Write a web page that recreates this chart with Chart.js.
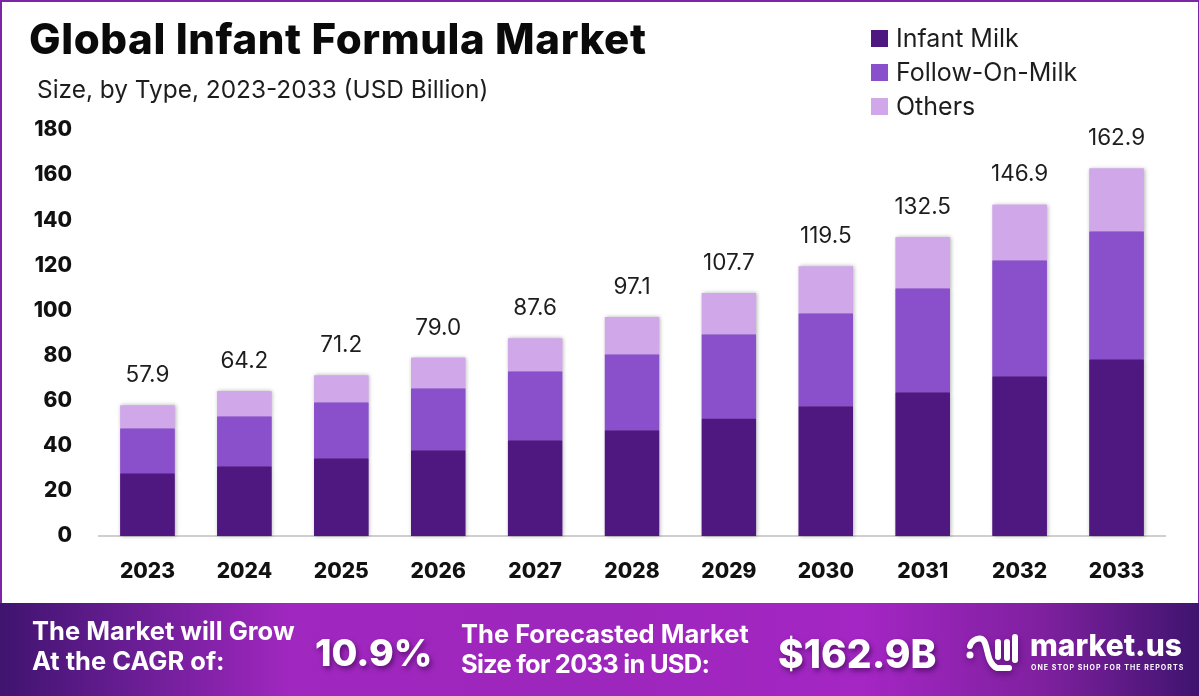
<!DOCTYPE html>
<html>
<head>
<meta charset="utf-8">
<title>Global Infant Formula Market</title>
<script src="https://cdn.jsdelivr.net/npm/chart.js@4"></script>
<style>
  html, body { margin: 0; padding: 0; background: #fff; }
  body { position: relative; width: 1199px; height: 696px; overflow: hidden; font-family: Inter, "Noto Sans", sans-serif; }
  #chart { position: absolute; left: 0; top: 0; }
  #frame { position: absolute; left: 0; top: 0; width: 1199px; height: 603px; box-sizing: border-box;
    border: solid #7d25a8; border-width: 2px 1px 0 2px; pointer-events: none; }
  #title { position: absolute; left: 29px; top: 13px; font-size: 42px; font-weight: 800; color: #0a0a0a; white-space: nowrap; letter-spacing: .6px; }
  #subtitle { position: absolute; left: 37px; top: 74px; font-size: 24.4px; color: #1d1d1d; white-space: nowrap; }
  #legend { position: absolute; left: 871px; top: 21px; }
  #legend div { height: 34px; display: flex; align-items: center; font-size: 25px; color: #1d1d1d; white-space: nowrap; }
  #legend i { width: 17px; height: 17px; margin-right: 8px; }
  #banner { position: absolute; left: 0; top: 603px; width: 1199px; height: 93px;
    background: linear-gradient(90deg, #3f146f 0%, #6d1e97 12%, #a027bf 24%, #9d26bc 50%, #a426c4 72%, #7f209f 87%, #3f146f 100%); color: #fff; }
  #banner span { position: absolute; white-space: nowrap; font-weight: 700; }
  #banner b { font-weight: 700; letter-spacing: -.75px; }
  .small { font-size: 25.5px; line-height: 30px; }
  .big { font-size: 39px; font-weight: 800 !important; text-shadow: 2px 3px 5px rgba(40,0,60,.55); }
</style>
</head>
<body>
<canvas id="chart" width="1199" height="603"></canvas>
<div id="frame"></div>
<div id="title">Global Infant Formula Market</div>
<div id="subtitle">Size, by Type, 2023-2033 (USD Billion)</div>
<div id="legend"></div>
<div id="banner">
  <span class="small" style="left:32px;top:13px">The Market will Grow<br>At the CAGR of:</span>
  <span class="big" style="left:315px;top:27px;font-size:37.5px">10.9%</span>
  <span class="small" style="left:461px;top:16px">The Forecasted Market<br><b>Size for 2033 in USD:</b></span>
  <span class="big" style="left:778px;top:27px">$162.9B</span>
  <svg style="position:absolute;left:964px;top:30px;filter:drop-shadow(1px 3px 3px rgba(40,0,60,.45))" width="60" height="44" viewBox="0 0 60 44" fill="none" stroke="#fff" stroke-width="6" stroke-linecap="round">
    <circle cx="6" cy="22" r="3.5" fill="#fff" stroke="none"/>
    <path d="M6 13 C8 6 17 3 20 8 C24 14 23 31 33 35 L45 35"/>
    <path d="M34 9 L34 24"/>
    <path d="M43 9 L43 25"/>
    <path d="M51 4 L51 27"/>
  </svg>
  <span style="left:1030px;top:24px;font-size:30px;font-weight:800">market.us</span>
  <span style="left:1031px;top:60px;font-size:7px;letter-spacing:1.05px">ONE STOP SHOP FOR THE REPORTS</span>
</div>

<script>
const years = ['2023', '2024', '2025', '2026', '2027', '2028', '2029', '2030', '2031', '2032', '2033'];
const infantMilk = [27.7, 30.8, 34.4, 37.9, 42.3, 46.8, 52.0, 57.4, 63.6, 70.7, 78.2];
const followOnMilk = [20.0, 22.2, 24.8, 27.5, 30.6, 33.7, 37.3, 41.2, 46.1, 51.4, 56.8];
const others = [10.2, 11.2, 12.0, 13.6, 14.7, 16.6, 18.4, 20.9, 22.8, 24.8, 27.9];
const totals = ['57.9', '64.2', '71.2', '79.0', '87.6', '97.1', '107.7', '119.5', '132.5', '146.9', '162.9'];
const yTicks = [0, 20, 40, 60, 80, 100, 120, 140, 160, 180];

const FONT = 'Inter, "Noto Sans", sans-serif';

// total above each stack
const totalLabels = {
  id: 'totalLabels',
  afterDatasetsDraw(chart) {
    const { ctx, scales: { x, y } } = chart;
    ctx.save();
    ctx.font = '22.5px ' + FONT;
    ctx.fillStyle = '#1d1d1d';
    ctx.textAlign = 'center';
    ctx.textBaseline = 'middle';
    totals.forEach((t, i) => {
      ctx.fillText(t, x.getPixelForValue(i), y.getPixelForValue(parseFloat(t)) - 30);
    });
    ctx.restore();
  }
};

// soft shadow round the stacks, drawn underneath so it never lands on a neighbouring segment
const barShadow = {
  id: 'barShadow',
  beforeDatasetsDraw(chart) {
    const { ctx } = chart;
    ctx.save();
    ctx.shadowColor = 'rgba(0,0,0,.3)';
    ctx.shadowBlur = 4;
    ctx.shadowOffsetX = 1;
    chart.getSortedVisibleDatasetMetas().forEach(m => m.data.forEach(el => el.draw(ctx)));
    ctx.restore();
  }
};

const chart = new Chart(document.getElementById('chart'), {
  type: 'bar',
  data: {
    labels: years,
    datasets: [
      { label: 'Infant Milk', data: infantMilk, backgroundColor: '#4f1780' },
      { label: 'Follow-On-Milk', data: followOnMilk, backgroundColor: '#8a4fcb' },
      { label: 'Others', data: others, backgroundColor: '#d0a8e9' }
    ]
  },
  options: {
    responsive: false,
    animation: false,
    layout: { padding: { top: 130, right: 34, left: 0, bottom: 0 } },
    datasets: { bar: { categoryPercentage: 1, barPercentage: 0.56 } },
    plugins: {
      legend: { display: false },
      tooltip: { enabled: false }
    },
    scales: {
      x: {
        stacked: true,
        grid: { display: false, drawTicks: false },
        border: { color: '#cfcfcf', width: 2 },
        ticks: { color: '#111', font: { family: FONT, size: 21, weight: '800' }, padding: 23, maxRotation: 0 },
        afterFit(s) { s.height = 67; }
      },
      y: {
        stacked: true,
        min: 0,
        max: 180,
        grid: { display: false, drawTicks: false },
        border: { display: false },
        afterBuildTicks(s) { s.ticks = yTicks.map(v => ({ value: v })); },
        ticks: { color: '#111', font: { family: FONT, size: 21, weight: '800' }, padding: 27 },
        afterFit(s) { s.width = 99; }
      }
    }
  },
  plugins: [barShadow, totalLabels]
});

document.getElementById('legend').innerHTML = chart.data.datasets.map(d =>
  `<div><i style="background:${d.backgroundColor}"></i>${d.label}</div>`).join('');
</script>
</body>
</html>
